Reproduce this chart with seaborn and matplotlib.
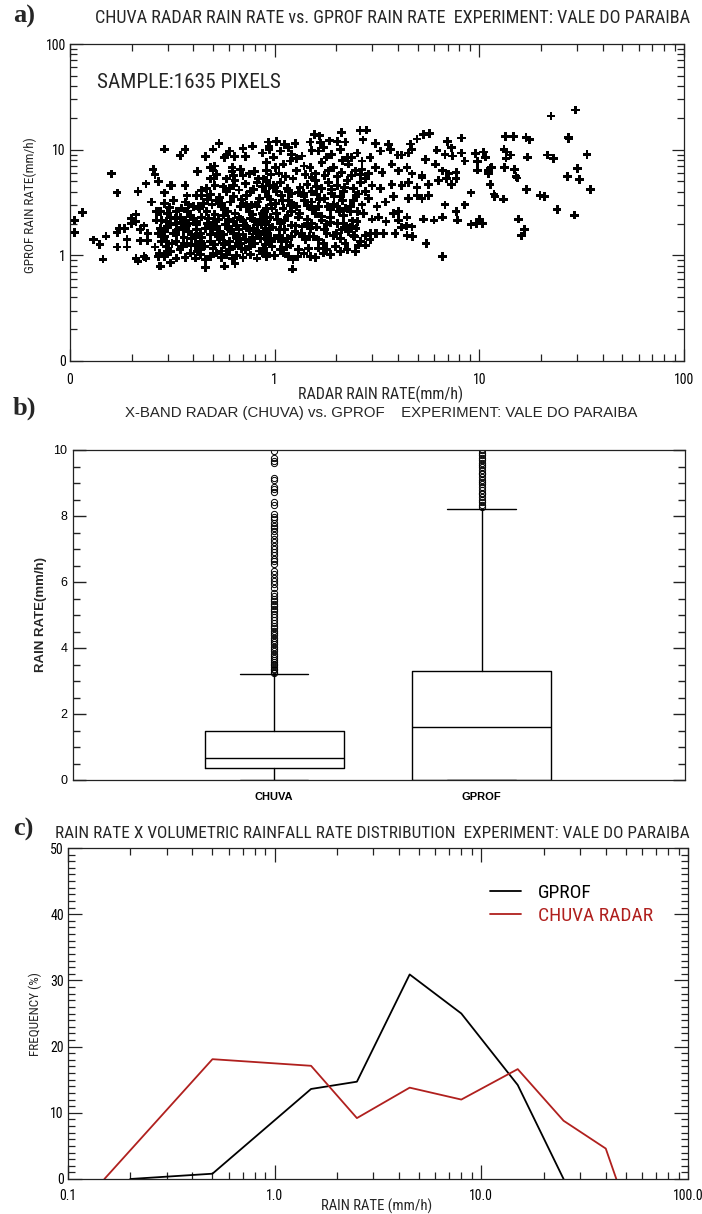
import numpy as np
import pandas as pd
import matplotlib
matplotlib.use("Agg")
import matplotlib.pyplot as plt
from matplotlib import font_manager as fm
import seaborn as sns
from matplotlib.ticker import FixedLocator, FixedFormatter, LogLocator, NullFormatter, MultipleLocator

# ---------------------------------------------------------------- data
# (a) pixel pairs: radar rain rate (mm/h), GPROF rain rate (mm/h)
left_fringe = [
    (0.105, 2.15), (0.115, 2.55), (0.105, 1.65), (0.13, 1.4), (0.14, 1.26), (0.145, 0.92),
    (0.15, 1.52), (0.16, 5.9), (0.17, 3.9), (0.17, 1.65), (0.17, 1.2), (0.175, 1.8),
    (0.185, 1.8), (0.19, 1.42), (0.19, 1.2), (0.2, 2.0), (0.2, 2.25), (0.21, 2.45),
    (0.21, 2.1), (0.21, 0.93), (0.215, 4.0), (0.215, 0.88), (0.22, 1.75), (0.22, 1.37),
    (0.23, 1.9), (0.23, 0.97), (0.235, 4.75), (0.235, 0.94), (0.24, 1.62), (0.24, 1.38),
    (0.25, 3.2), (0.255, 6.5), (0.26, 5.8), (0.265, 2.15), (0.265, 2.6), (0.27, 5.0),
    (0.27, 0.97), (0.275, 0.79), (0.29, 10.1), (0.29, 3.9), (0.295, 1.35), (0.3, 1.1),
    (0.31, 0.85), (0.31, 4.6),
]
light_rain = [
    (0.345, 8.8), (0.365, 10.0), (0.46, 8.6), (0.50, 10.1), (0.535, 11.5), (0.57, 8.4),
    (0.58, 8.9), (0.60, 9.7), (0.635, 8.6), (0.70, 10.2), (0.72, 8.6), (0.78, 10.8),
    (0.87, 9.3), (0.94, 10.7),
    (0.42, 6.2), (0.485, 6.8), (0.50, 6.3), (0.51, 7.0), (0.52, 5.8), (0.62, 6.8),
    (0.62, 6.2), (0.63, 5.7), (0.68, 6.5), (0.70, 5.7), (0.75, 5.9), (0.80, 6.2),
    (0.835, 5.3), (0.915, 6.3),
    (0.315, 4.6), (0.416, 3.7), (0.373, 3.65), (0.44, 3.7), (0.485, 3.75), (0.51, 4.6),
    (0.505, 5.3), (0.56, 4.45), (0.58, 4.0), (0.63, 4.6), (0.64, 5.1), (0.67, 4.15),
    (0.73, 3.7), (0.76, 4.0), (0.82, 4.9), (0.87, 4.45), (0.885, 5.3), (0.94, 4.6),
    (0.267, 2.6), (0.276, 2.6), (0.29, 3.1), (0.306, 2.85), (0.32, 3.3), (0.33, 2.6),
    (0.35, 2.8), (0.365, 3.2), (0.387, 2.4), (0.40, 2.9), (0.424, 2.9), (0.45, 3.1),
    (0.466, 2.6), (0.494, 3.0), (0.52, 3.3), (0.55, 2.9), (0.57, 2.7), (0.61, 3.2),
    (0.64, 2.5), (0.68, 2.9), (0.70, 3.1), (0.75, 2.6), (0.77, 3.0), (0.82, 2.9),
    (0.87, 2.5), (0.915, 2.8),
    (0.28, 2.15), (0.295, 2.1), (0.309, 2.3), (0.326, 2.25), (0.345, 2.3), (0.365, 2.15),
    (0.38, 2.0), (0.40, 2.2), (0.416, 2.1), (0.44, 2.3), (0.475, 2.25), (0.50, 2.05),
    (0.53, 2.2), (0.56, 2.4), (0.595, 2.2), (0.63, 2.1), (0.67, 2.3), (0.70, 2.15),
    (0.76, 2.25), (0.80, 2.1), (0.85, 2.2), (0.915, 2.3),
    (0.276, 1.8), (0.29, 1.68), (0.30, 1.87), (0.32, 1.62), (0.34, 1.74), (0.36, 1.8),
    (0.38, 1.68), (0.393, 1.56), (0.414, 1.74), (0.433, 1.62), (0.46, 1.8), (0.485, 1.56),
    (0.50, 1.74), (0.54, 1.68), (0.565, 1.56), (0.595, 1.8), (0.63, 1.62), (0.67, 1.74),
    (0.70, 1.56), (0.75, 1.7), (0.79, 1.8), (0.835, 1.62), (0.885, 1.68), (0.94, 1.8),
    (0.28, 1.35), (0.295, 1.22), (0.315, 1.3), (0.33, 1.35), (0.35, 1.22), (0.373, 1.3),
    (0.393, 1.45), (0.41, 1.26), (0.433, 1.35), (0.453, 1.22), (0.485, 1.35), (0.51, 1.26),
    (0.54, 1.4), (0.565, 1.26), (0.603, 1.35), (0.64, 1.22), (0.68, 1.3), (0.72, 1.4),
    (0.76, 1.22), (0.80, 1.3), (0.85, 1.45), (0.90, 1.26), (0.945, 1.35),
    (0.273, 1.05), (0.29, 0.97), (0.309, 1.09), (0.33, 0.94), (0.365, 0.95), (0.387, 1.05),
    (0.41, 0.94), (0.433, 1.01), (0.46, 0.91), (0.485, 0.97), (0.52, 1.05), (0.55, 0.95),
    (0.58, 1.02), (0.62, 0.94), (0.65, 1.0), (0.70, 0.95), (0.76, 1.01), (0.82, 0.94),
    (0.87, 1.05), (0.915, 0.97),
    (0.276, 0.79), (0.309, 0.85), (0.46, 0.77), (0.57, 0.79), (0.64, 0.83),
    (0.30, 2.5), (0.33, 2.0), (0.375, 2.6), (0.414, 1.94), (0.47, 2.0), (0.52, 1.87),
    (0.575, 1.97), (0.65, 1.9), (0.73, 1.87), (0.825, 1.94), (0.91, 2.1),
    (0.29, 1.5), (0.36, 1.47), (0.44, 1.47), (0.53, 1.5), (0.65, 1.47), (0.78, 1.47),
    (0.92, 1.5),
    (0.345, 1.13), (0.424, 1.13), (0.50, 1.15), (0.603, 1.13), (0.72, 1.13), (0.885, 1.15),
    (0.365, 4.6), (0.466, 4.3), (0.54, 3.55), (0.69, 3.4), (0.845, 3.45), (0.95, 3.4),
    (0.485, 5.3), (0.72, 4.75), (0.58, 5.3),
]
moderate_rain = [
    (1.56, 14.0), (1.66, 13.5), (2.12, 14.6), (2.61, 15.2), (2.82, 15.3), (2.70, 12.4),
    (3.1, 11.4), (3.61, 11.2), (4.6, 11.3), (4.96, 12.6), (5.35, 13.9), (5.72, 14.3),
    (7.0, 12.0), (8.2, 12.9), (0.93, 11.8), (1.02, 12.0), (1.12, 11.2), (1.26, 11.4),
    (1.49, 11.8), (1.67, 11.6), (1.85, 12.1), (2.02, 12.0), (2.21, 11.8),
    (0.94, 10.0), (1.07, 9.7), (1.17, 10.5), (1.21, 9.0), (1.36, 8.7), (1.52, 9.8),
    (1.64, 9.7), (1.73, 10.5), (1.90, 9.0), (2.10, 10.0), (2.26, 8.4), (2.37, 8.4),
    (2.53, 9.3), (2.67, 7.8), (2.93, 8.4), (3.28, 9.7), (3.67, 10.0), (4.0, 8.9),
    (4.18, 8.9), (4.51, 9.3), (4.69, 10.0), (5.45, 8.1), (6.2, 9.9), (6.8, 9.0),
    (7.3, 10.4), (7.4, 8.7), (8.2, 9.3),
    (0.91, 7.6), (1.01, 6.8), (1.10, 7.3), (1.19, 7.8), (1.28, 6.3), (1.39, 7.0),
    (1.49, 6.8), (1.58, 5.9), (1.70, 7.6), (1.83, 6.3), (1.94, 6.8), (2.13, 6.1),
    (2.30, 7.3), (2.48, 6.3), (2.67, 6.5), (2.88, 5.9), (3.1, 6.8), (3.35, 6.1),
    (3.74, 7.3), (4.03, 6.3), (4.43, 6.8), (4.69, 5.9), (5.25, 5.7), (6.1, 7.3),
    (6.6, 6.3), (7.1, 5.9), (7.7, 6.1), (8.5, 7.8),
    (0.91, 5.1), (0.99, 4.6), (1.07, 4.9), (1.15, 4.3), (1.23, 5.3), (1.33, 4.4),
    (1.44, 4.7), (1.58, 5.1), (1.70, 4.3), (1.83, 4.9), (2.02, 4.6), (2.26, 5.1),
    (2.43, 4.3), (2.62, 4.9), (2.77, 5.3), (2.99, 4.6), (3.28, 4.3), (3.74, 4.7),
    (4.18, 4.6), (4.51, 4.9), (4.96, 4.4), (5.25, 5.5), (5.66, 4.7), (6.3, 5.1),
    (6.9, 5.3), (7.3, 4.7), (7.7, 5.3),
    (0.93, 3.6), (1.01, 3.1), (1.08, 3.7), (1.17, 3.3), (1.28, 2.9), (1.39, 3.6),
    (1.52, 3.2), (1.64, 2.9), (1.76, 3.45), (1.94, 3.0), (2.10, 3.6), (2.21, 2.8),
    (2.43, 3.3), (2.67, 3.0), (2.88, 3.45), (3.16, 2.9), (3.47, 3.2), (3.81, 3.6),
    (4.03, 2.6), (4.51, 3.45), (4.96, 3.7), (5.25, 3.45), (5.66, 3.7), (6.8, 3.0),
    (7.7, 2.6), (8.5, 3.0),
    (0.95, 2.3), (1.02, 2.5), (1.12, 2.15), (1.21, 2.6), (1.31, 2.3), (1.44, 2.0),
    (1.58, 2.5), (1.70, 2.15), (1.87, 2.3), (2.02, 2.0), (2.17, 2.4), (2.34, 1.86),
    (2.53, 2.1), (2.72, 2.5), (2.99, 2.2), (3.22, 2.3), (3.5, 2.1), (3.81, 2.5),
    (4.03, 2.15), (4.43, 2.3), (4.69, 1.86), (5.35, 2.2), (6.0, 2.15), (6.6, 2.3),
    (7.8, 2.15),
    (0.93, 1.61), (1.05, 1.74), (1.15, 1.45), (1.26, 1.68), (1.36, 1.5), (1.49, 1.8),
    (1.64, 1.4), (1.80, 1.61), (1.94, 1.55), (2.13, 1.74), (2.30, 1.68), (2.43, 1.55),
    (2.62, 1.35), (2.77, 1.55), (2.93, 1.61), (3.1, 1.61), (3.41, 1.61), (3.88, 1.61),
    (4.43, 1.55), (5.5, 1.3),
    (0.97, 1.21), (1.07, 1.13), (1.17, 0.98), (1.23, 0.91), (1.31, 1.13), (1.46, 1.17),
    (1.58, 0.95), (1.73, 1.05), (1.80, 1.13), (1.98, 1.21), (2.10, 1.09), (2.48, 1.09),
    (2.57, 1.25), (2.77, 1.25), (1.22, 0.74), (6.6, 0.98),
    (0.99, 8.5), (1.28, 8.2), (1.80, 8.5), (2.15, 7.9),
    (0.96, 5.8), (1.05, 6.0), (1.13, 5.6), (1.41, 5.8), (1.52, 5.5), (1.76, 5.7),
    (2.02, 5.6), (2.37, 5.7), (2.62, 5.8),
    (0.90, 4.0), (1.02, 4.0), (1.21, 3.85), (1.31, 3.95), (1.52, 4.0), (1.61, 3.75),
    (1.90, 3.85), (2.17, 4.0), (2.57, 3.8), (2.77, 4.0),
    (0.97, 2.8), (1.10, 2.8), (1.19, 2.95), (1.44, 2.95), (1.55, 2.75), (1.87, 2.7),
    (2.02, 2.9), (2.34, 2.6), (2.53, 2.6),
    (0.90, 2.0), (1.07, 2.0), (1.21, 1.93), (1.36, 1.86), (1.52, 2.0), (1.80, 1.97),
    (2.17, 2.0), (2.39, 2.12),
    (1.0, 1.45), (1.08, 1.35), (1.21, 1.5), (1.41, 1.4), (1.55, 1.5), (1.73, 1.3),
    (2.10, 1.45), (2.21, 1.3),
    (0.91, 1.05), (1.10, 1.05), (1.39, 1.04), (1.49, 0.98), (1.64, 1.17), (1.87, 1.02),
    (2.26, 1.13),
    (2.93, 1.4), (4.15, 1.85), (4.4, 1.9), (4.7, 1.5), (3.15, 1.6), (2.5, 1.81),
]
dense_core = [
    (0.37, 1.9), (0.39, 2.35), (0.41, 1.5), (0.43, 2.75), (0.45, 1.2), (0.47, 3.4),
    (0.49, 1.9), (0.51, 2.45), (0.53, 1.6), (0.55, 3.1), (0.57, 1.3), (0.59, 2.6),
    (0.61, 1.75), (0.63, 3.6), (0.66, 1.45), (0.68, 2.2), (0.71, 1.9), (0.73, 2.95),
    (0.75, 1.35), (0.78, 2.45), (0.81, 1.65), (0.83, 3.2), (0.86, 1.95), (0.89, 2.6),
    (0.92, 1.4), (0.96, 3.0), (0.98, 1.85), (1.03, 2.2), (1.06, 1.55), (1.09, 3.3),
    (1.12, 1.75), (1.16, 2.4), (1.19, 1.25), (1.24, 3.0), (1.27, 1.9), (1.32, 2.5),
    (1.35, 1.6), (1.4, 3.3), (1.44, 2.2), (1.48, 1.5), (1.53, 2.7), (1.6, 1.85),
    (1.65, 3.4), (1.69, 2.35), (1.75, 1.75), (1.82, 2.9), (1.88, 2.05), (1.95, 3.6),
    (2.0, 1.6), (2.07, 2.6), (2.15, 3.3), (2.25, 1.9), (2.35, 2.9), (2.45, 1.5),
    (0.38, 3.0), (0.42, 1.08), (0.55, 1.1), (0.69, 1.15), (0.84, 1.1), (1.0, 1.0),
    (1.14, 1.2), (1.3, 0.97), (0.44, 4.1), (0.6, 4.3), (0.79, 4.2), (1.0, 4.4),
    (1.17, 4.0), (1.38, 3.85), (1.6, 4.5), (1.9, 4.2), (2.2, 4.4), (2.5, 3.7),
    (0.33, 1.58), (0.35, 2.05), (0.31, 1.95), (0.39, 1.25), (0.27, 1.6), (0.26, 1.2),
]
heavy_rain = [
    (9.1, 3.9), (9.6, 9.2), (9.8, 7.7), (9.8, 6.4), (10.5, 9.5), (10.7, 8.5),
    (11.0, 6.3), (11.3, 6.7), (11.5, 6.8), (11.1, 5.9), (11.3, 4.7), (11.8, 3.8),
    (11.9, 3.6), (13.1, 3.4), (13.4, 13.4), (14.7, 13.4), (13.2, 10.1), (13.6, 9.5),
    (14.2, 8.9), (13.5, 8.3), (13.3, 6.8), (14.9, 6.5), (15.1, 5.6), (15.3, 5.4),
    (9.1, 1.96), (9.7, 2.0), (10.0, 2.2), (10.4, 2.0), (15.5, 2.2), (16.6, 1.75),
    (16.1, 1.53), (16.9, 13.1), (17.6, 12.4), (17.2, 8.5), (17.0, 4.2), (19.8, 3.7),
    (20.9, 3.6), (22.4, 20.8), (21.5, 8.9), (23.0, 8.2), (24.0, 2.7), (27.2, 13.1),
    (27.4, 12.7), (27.0, 5.6), (29.5, 23.7), (29.2, 2.4), (30.2, 6.6), (30.9, 5.2),
    (33.6, 9.0), (35.0, 4.2),
]
sample_size = 1635
log_ticks = [0.1, 1, 10, 100]
log_tick_labels_a = ["0", "1", "10", "100"]

# (b) box statistics, rain rate (mm/h)
box_labels = ["CHUVA", "GPROF"]
box_q1 = [0.36, 0.0]
box_median = [0.66, 1.6]
box_q3 = [1.48, 3.3]
box_low = [0.0, 0.0]
box_high = [3.2, 8.2]
chuva_outliers = [3.24, 3.28, 3.33, 3.37, 3.42, 3.47, 3.52, 3.58, 3.63, 3.69, 3.76, 3.83,
                  3.9, 3.97, 4.04, 4.11, 4.17, 4.25, 4.31, 4.38, 4.46, 4.52, 4.61, 4.68,
                  4.77, 4.86, 4.95, 5.04, 5.12, 5.19, 5.27, 5.34, 5.41, 5.5, 5.58, 5.68,
                  5.83, 5.94, 6.04, 6.13, 6.24, 6.33, 6.56, 6.63, 6.71, 6.82, 6.9, 7.01,
                  7.1, 7.22, 7.31, 7.42, 7.55, 7.63, 7.71, 7.8, 7.9, 7.98, 8.05, 8.33,
                  8.41, 8.74, 8.81, 8.89, 9.1, 9.16, 9.6, 9.68, 9.76, 9.97]
gprof_outliers = [8.27, 8.34, 8.43, 8.49, 8.57, 8.66, 8.71, 8.8, 8.87, 8.96, 9.03, 9.09,
                  9.17, 9.26, 9.31, 9.4, 9.47, 9.56, 9.61, 9.71, 9.77, 9.86, 9.92, 9.99]

# (c) volumetric rainfall rate distribution, frequency (%)
gprof_rate = [0.2, 0.5, 1.5, 2.5, 4.5, 8.0, 15.0, 25.0]
gprof_freq = [0.0, 0.8, 13.6, 14.7, 30.9, 25.0, 14.2, 0.0]
chuva_rate = [0.15, 0.5, 1.5, 2.5, 4.5, 8.0, 15.0, 25.0, 40.0, 45.0]
chuva_freq = [0.0, 18.1, 17.1, 9.2, 13.8, 12.0, 16.6, 8.8, 4.6, 0.0]
log_tick_labels_c = ["0.1", "1.0", "10.0", "100.0"]

# ---------------------------------------------------------------- style
sns.set_theme(style="ticks")
ARIAL = ["Liberation Sans", "DejaVu Sans"]
plt.rcParams["font.family"] = ARIAL
plt.rcParams["axes.linewidth"] = 0.9
plt.rcParams["axes.edgecolor"] = "#222222"
plt.rcParams["xtick.color"] = "#222222"
plt.rcParams["ytick.color"] = "#222222"
plt.rcParams["xtick.labelcolor"] = "black"
plt.rcParams["ytick.labelcolor"] = "black"
RED = "#b0201e"


def narrow_font_file():
    """Pick an installed narrow/condensed sans face for the plotter-style lettering."""
    ranked = []
    for f in fm.fontManager.ttflist:
        if f.style != "normal" or f.weight not in (400, "normal", "regular"):
            continue
        name = f.name
        condensed = f.stretch in ("condensed", "semi-condensed") or \
            "Narrow" in name or "Condensed" in name or "Condensed" in f.fname
        if not condensed:
            continue
        if "Liberation Sans Narrow" in name:
            rank = 0
        elif "Roboto" in name:
            rank = 1
        elif "DejaVu Sans" in name:
            rank = 2
        else:
            rank = 3
        ranked.append((rank, f.fname))
    ranked.sort()
    return ranked[0][1] if ranked else None


NARROW_FILE = narrow_font_file()


def plotter_font(size):
    if NARROW_FILE:
        return fm.FontProperties(fname=NARROW_FILE, size=size)
    return fm.FontProperties(family=ARIAL, size=size)


W, H = 702, 1214
fig = plt.figure(figsize=(W / 100, H / 100), dpi=100)
fig.patch.set_facecolor("white")


def px_rect(l, t, r, b):
    return [l / W, 1 - b / H, (r - l) / W, (b - t) / H]


def fx(px):
    return px / W


def fy(py):
    return 1 - py / H


ax_a = fig.add_axes(px_rect(70, 44, 684, 361))
ax_b = fig.add_axes(px_rect(73, 450, 685, 780))
ax_c = fig.add_axes(px_rect(68, 848, 688, 1179))

fitted = []  # (text, target width in px)

# ---------------------------------------------------------------- (a) scatter
scatter_df = pd.DataFrame(left_fringe + light_rain + dense_core + moderate_rain + heavy_rain,
                          columns=["radar", "gprof"])
sns.scatterplot(data=scatter_df, x="radar", y="gprof", ax=ax_a, marker="P", s=38,
                color="black", linewidth=0, edgecolor="none", legend=False)
ax_a.set_xscale("log")
ax_a.set_yscale("log")
ax_a.set_xlim(0.1, 100)
ax_a.set_ylim(0.1, 100)
for axis in (ax_a.xaxis, ax_a.yaxis):
    axis.set_major_locator(FixedLocator(log_ticks))
    axis.set_major_formatter(FixedFormatter(log_tick_labels_a))
    axis.set_minor_locator(LogLocator(base=10, subs=np.arange(2, 10)))
    axis.set_minor_formatter(NullFormatter())
ax_a.tick_params(which="both", direction="in", top=True, right=True, labelsize=9)
ax_a.tick_params(which="major", length=9, width=0.9)
ax_a.tick_params(which="minor", length=5, width=0.9)
ax_a.tick_params(axis="x", pad=9)
ax_a.tick_params(axis="y", pad=3)
ax_a.set_xlabel("")
ax_a.set_ylabel("")
t = ax_a.text(0.044, 0.88, f"SAMPLE:{sample_size} PIXELS", transform=ax_a.transAxes,
              fontproperties=plotter_font(13), ha="left", va="center")
fitted.append((t, 183))
t = fig.text(fx(298), fy(394), "RADAR RAIN RATE(mm/h)", ha="left", va="center",
             fontproperties=plotter_font(9.5))
fitted.append((t, 165))
t = fig.text(fx(30), fy(205), "GPROF RAIN RATE(mm/h)", ha="center", va="center",
             rotation=90, fontproperties=plotter_font(9.5))

# ---------------------------------------------------------------- (b) boxes
stats = []
fliers = [chuva_outliers, gprof_outliers]
for i, lab in enumerate(box_labels):
    stats.append(dict(label=lab, q1=box_q1[i], med=box_median[i], q3=box_q3[i],
                      whislo=box_low[i], whishi=box_high[i], fliers=np.array(fliers[i])))
line_kw = dict(color="black", linewidth=1.0)
ax_b.bxp(stats, positions=[1, 2], widths=0.67, capwidths=0.33, showfliers=True,
         boxprops=line_kw, medianprops=line_kw, whiskerprops=line_kw, capprops=line_kw,
         flierprops=dict(marker="o", markerfacecolor="none", markeredgecolor="black",
                         markersize=4.5, markeredgewidth=0.7))
ax_b.set_xlim(0.03, 2.98)
ax_b.set_ylim(0, 10)
ax_b.yaxis.set_major_locator(MultipleLocator(2))
ax_b.yaxis.set_minor_locator(MultipleLocator(0.5))
ax_b.tick_params(axis="y", which="both", direction="in", left=True, right=True, labelsize=9)
ax_b.tick_params(axis="y", which="major", length=9, width=1.0, pad=4)
ax_b.tick_params(axis="y", which="minor", length=5, width=1.0)
ax_b.tick_params(axis="x", length=0, pad=9, labelsize=8)
for lab in ax_b.get_xticklabels():
    lab.set_fontweight("bold")
fig.text(fx(41), fy(614), "RAIN RATE(mm/h)", ha="center", va="center", rotation=90,
         fontsize=9.5, family=ARIAL, weight="bold")

# ---------------------------------------------------------------- (c) lines
sns.lineplot(x=gprof_rate, y=gprof_freq, ax=ax_c, color="black", linewidth=1.3,
             label="GPROF", sort=False, estimator=None)
sns.lineplot(x=chuva_rate, y=chuva_freq, ax=ax_c, color=RED, linewidth=1.3,
             label="CHUVA RADAR", sort=False, estimator=None)
ax_c.set_xscale("log")
ax_c.set_xlim(0.1, 100)
ax_c.set_ylim(0, 50)
ax_c.xaxis.set_major_locator(FixedLocator(log_ticks))
ax_c.xaxis.set_major_formatter(FixedFormatter(log_tick_labels_c))
ax_c.xaxis.set_minor_locator(LogLocator(base=10, subs=np.arange(2, 10)))
ax_c.xaxis.set_minor_formatter(NullFormatter())
ax_c.yaxis.set_major_locator(MultipleLocator(10))
ax_c.yaxis.set_minor_locator(MultipleLocator(1))
ax_c.tick_params(which="both", direction="in", top=True, right=True, labelsize=9)
ax_c.tick_params(which="major", length=10, width=0.9)
ax_c.tick_params(which="minor", length=5, width=0.9)
ax_c.tick_params(axis="x", pad=7)
ax_c.tick_params(axis="y", pad=3)
ax_c.set_xlabel("")
ax_c.set_ylabel("")
ax_c.legend(loc="upper left", bbox_to_anchor=(0.652, 0.945), frameon=False,
            handlelength=1.6, handletextpad=0.9, labelspacing=0.25,
            labelcolor="linecolor", prop=plotter_font(14))
t = fig.text(fx(321), fy(1206), "RAIN RATE (mm/h)", ha="left", va="center",
             fontproperties=plotter_font(9.5))
fitted.append((t, 111))
fig.text(fx(35), fy(1014), "FREQUENCY (%)", ha="center", va="center", rotation=90,
         fontproperties=plotter_font(9.5))

# plotter-style tick labels on panels a and c
for ax in (ax_a, ax_c):
    for lab in ax.get_xticklabels() + ax.get_yticklabels():
        lab.set_fontproperties(plotter_font(10))

# ---------------------------------------------------------------- titles
titles = [
    ("CHUVA RADAR RAIN RATE vs. GPROF RAIN RATE  EXPERIMENT: VALE DO PARAIBA",
     95, 688, 18, True),
    ("X-BAND RADAR (CHUVA) vs. GPROF    EXPERIMENT: VALE DO PARAIBA",
     125, 638, 413, False),
    ("RAIN RATE X VOLUMETRIC RAINFALL RATE DISTRIBUTION  EXPERIMENT: VALE DO PARAIBA",
     55, 686, 834, True),
]
for txt, x0, x1, yc, plotter in titles:
    if plotter:
        t = fig.text(fx(x0), fy(yc), txt, ha="left", va="center",
                     fontproperties=plotter_font(12))
    else:
        t = fig.text(fx(x0), fy(yc), txt, ha="left", va="center", fontsize=11,
                     family=ARIAL)
    fitted.append((t, x1 - x0))

fig.canvas.draw()
renderer = fig.canvas.get_renderer()
for t, target in fitted:
    w = t.get_window_extent(renderer).width
    t.set_fontsize(t.get_fontsize() * target / w)

for letter, yc in (("a)", 16), ("b)", 408), ("c)", 829)):
    fig.text(fx(13), fy(yc), letter, ha="left", va="center", fontsize=19,
             family=["Liberation Serif", "DejaVu Serif"], weight="bold")

fig.savefig("out.png", dpi=100, facecolor="white")
